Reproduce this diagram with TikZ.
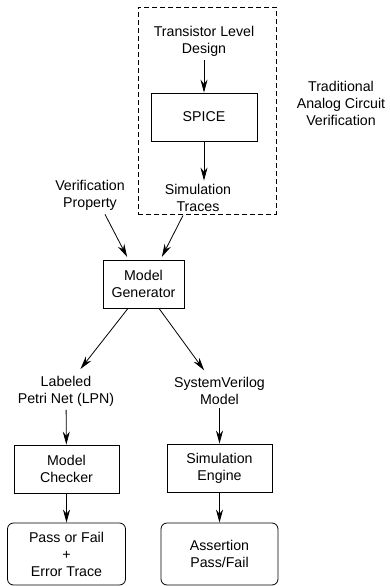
\documentclass[tikz,border=0pt]{standalone}
\usepackage{fontspec}
\setmainfont{Liberation Sans}
\usetikzlibrary{arrows.meta}

\tikzset{
    block/.style={draw, rectangle, align=center, minimum height=48pt},
    outcome/.style={draw, rectangle, rounded corners=6pt, align=center, minimum height=62pt},
    txt/.style={align=center},
    frame/.style={draw, rectangle, dash pattern=on 5pt off 3pt},
}

\begin{document}
\begin{tikzpicture}[x=1pt, y=-1pt, line width=0.8pt,
        font=\fontsize{14.2}{17}\selectfont,
        >={Stealth[length=13pt, width=7pt]}]
    \useasboundingbox (0,0) rectangle (389,586);
    % traditional flow (dashed part)
    \node[frame, minimum width=138pt, minimum height=207pt] (tradbox) at (207,110.5) {};
    \node[txt] (tld) at (204,41) {Transistor Level\\Design};
    \node[block, minimum width=106pt] (spice) at (204,117) {SPICE};
    \node[txt] (traces) at (198,198) {Simulation\\Traces};
    \node[txt] (tacv) at (341,103) {Traditional\\Analog Circuit\\Verification};

    % model generation
    \node[txt] (prop) at (90,195.5) {Verification\\Property};
    \node[block, minimum width=81pt] (mgen) at (143.5,284) {Model\\Generator};
    \node[txt] (lpn) at (66,391) {Labeled\\Petri Net (LPN)};
    \node[txt] (svmodel) at (219.5,391) {SystemVerilog\\Model};

    % checking / simulation
    \node[block, minimum width=105pt] (checker) at (66.5,469) {Model\\Checker};
    \node[block, minimum width=105pt] (engine) at (219.5,468) {Simulation\\Engine};
    \node[outcome, minimum width=118pt] (passfail) at (66.5,554) {Pass or Fail\\+\\Error Trace};
    \node[outcome, minimum width=117pt] (assert) at (219.5,554) {Assertion\\Pass/Fail};

    \draw[->] (tld) -- (spice);
    \draw[->] (spice.south) -- (spice.south |- traces.north);
    \draw[->, shorten >=3pt] ([xshift=15pt]prop.south) -- ([xshift=-15pt]mgen.north);
    \draw[->, shorten >=3pt] ([xshift=-15pt]traces.south) -- ([xshift=17pt]mgen.north);
    \draw[->, shorten >=4pt] ([xshift=-15.5pt]mgen.south) -- ([xshift=12pt]lpn.north);
    \draw[->, shorten >=4pt] ([xshift=15.5pt]mgen.south) -- ([xshift=-13pt]svmodel.north);
    \draw[->] (lpn) -- (checker);
    \draw[->] (svmodel) -- (engine);
    \draw[->] (checker) -- (passfail);
    \draw[->] (engine) -- (assert);
\end{tikzpicture}
\end{document}
